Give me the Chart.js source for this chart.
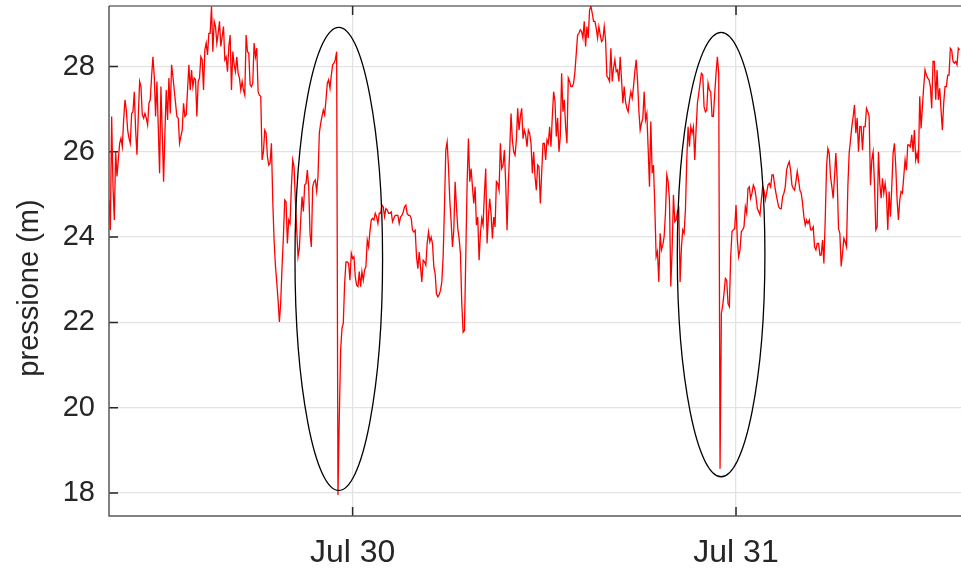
<!DOCTYPE html>
<html>
<head>
<meta charset="utf-8">
<script src="https://cdn.jsdelivr.net/npm/chart.js@4.4.1/dist/chart.umd.min.js"></script>
<style>
  html, body { margin: 0; padding: 0; background: #fff; }
  #wrap { width: 961px; height: 571px; }
</style>
</head>
<body>
<div id="wrap"><canvas id="chart" width="961" height="571"></canvas></div>
<script>
// Pressione misurata, campioni ogni 5 minuti
const startMinute = -915;   // Jul 29 08:45 (minutes from Jul 30 00:00)
const stepMinutes = 5;

const pressione = [
    24.87, 24.17, 26.83, 25.18, 24.40, 26.00, 25.42, 25.81, 26.20, 26.32,
    26.12, 26.75, 27.22, 26.98, 26.51, 26.32, 26.20, 26.90, 26.94, 27.41,
    26.51, 25.93, 26.83, 27.65, 27.53, 26.87, 26.79, 26.90, 26.79, 26.63,
    27.14, 27.22, 27.77, 28.23, 27.77, 26.83, 27.65, 26.59, 25.50, 27.53,
    26.44, 25.30, 26.44, 27.45, 26.75, 27.73, 26.90, 28.04, 27.77, 27.45,
    27.14, 26.83, 26.79, 26.20, 26.36, 26.51, 27.14, 26.83, 26.87, 27.45,
    28.04, 27.45, 27.92, 27.53, 27.73, 27.69, 26.83, 27.65, 27.73, 28.23,
    28.16, 27.45, 28.39, 28.55, 28.27, 28.78, 28.78, 29.41, 28.35, 29.06,
    28.94, 28.55, 28.78, 29.06, 28.47, 28.70, 28.94, 28.16, 28.23, 27.88,
    28.47, 28.74, 27.45, 28.35, 28.04, 27.88, 28.23, 27.84, 27.73, 27.45,
    27.65, 27.45, 27.33, 28.74, 28.35, 28.31, 27.57,
    27.53, 27.61, 28.55, 28.23, 28.43, 27.41, 27.33, 27.30, 25.81, 26.00,
    26.51, 26.44, 25.89, 25.69, 25.73, 26.20, 24.87, 23.93, 23.34, 22.95,
    22.52, 22.01, 22.48, 23.31, 24.01, 24.87, 24.83, 23.85, 24.40, 24.32,
    25.18, 25.81, 25.65, 24.87, 24.17, 23.54, 23.74, 24.40, 24.95, 24.60,
    25.22, 25.26, 25.57, 25.18, 24.09, 23.77, 25.18, 25.30, 25.34, 25.07,
    25.42, 26.44, 26.67, 26.83, 26.98, 26.87, 27.22, 27.61, 27.69, 27.49,
    27.80, 28.04, 28.08, 28.16, 28.35, 17.95, 19.78, 21.35, 21.86, 21.98,
    22.91, 23.42, 23.42, 23.38, 22.99, 23.62, 23.50, 23.54, 23.07, 22.87,
    22.84, 23.19, 22.84, 23.19, 22.99, 23.23, 23.31, 23.93, 23.77, 24.13,
    24.40, 24.44, 24.40, 24.56, 24.48, 24.32, 24.56, 24.56, 24.75, 24.71,
    24.48, 24.67, 24.64, 24.56, 24.56,
    24.59, 24.36, 24.44, 24.51, 24.51, 24.51, 24.32, 24.47, 24.51, 24.59,
    24.71, 24.75, 24.55, 24.51, 24.51, 24.44, 24.16, 24.12, 24.16, 23.54,
    23.26, 23.65, 23.30, 22.95, 23.46, 23.42, 23.34, 23.85, 24.12, 23.89,
    24.00, 23.85, 23.30, 23.14, 22.67, 22.60, 22.65, 22.75, 22.95, 23.54,
    24.71, 26.04, 26.23, 25.65, 24.87, 24.36, 23.77, 24.16, 25.30, 24.71,
    24.20, 23.97, 23.61, 22.44, 21.77, 21.81, 23.54, 25.26, 26.31, 25.30,
    25.61, 25.18, 24.79, 25.18, 24.28, 24.47, 23.46, 24.08, 24.44, 24.28,
    25.02, 25.61, 23.85, 24.47, 24.90, 24.55, 23.97, 24.47, 24.24, 25.30,
    25.26, 25.10, 26.20, 25.61, 25.69, 26.04, 25.26, 24.16, 25.26, 26.04,
    26.90, 26.27, 26.00, 25.92, 26.27, 27.02, 26.51, 26.82, 27.02, 26.31,
    26.51, 26.39, 26.12, 26.51, 26.43,
    26.20, 25.50, 26.00, 25.42, 25.10, 25.69, 25.65, 24.79, 25.50, 26.20,
    26.20, 25.81, 26.28, 26.20, 26.59, 26.12, 26.83, 27.41, 27.18, 26.36,
    26.79, 26.00, 26.36, 27.84, 26.94, 27.22, 26.59, 26.20, 27.73, 27.65,
    27.53, 27.53, 27.61, 27.88, 28.31, 28.74, 28.78, 28.86, 28.82, 28.67,
    29.06, 28.47, 28.94, 28.67, 29.33, 29.41, 29.25, 29.06, 29.06, 28.90,
    28.67, 28.94, 28.74, 28.59, 28.63, 28.94, 28.63, 27.77, 27.73, 27.65,
    28.43, 27.65, 27.96, 28.16, 27.88, 27.92, 27.65, 28.23, 27.69, 27.14,
    27.53, 27.18, 27.02, 26.94, 27.22, 27.41, 27.26, 27.53, 27.88, 28.16,
    27.69, 26.98, 26.51, 26.67, 26.79, 27.41, 26.75, 26.90, 26.08, 25.18,
    26.71, 25.50, 25.69, 24.71, 23.54, 23.66, 22.95, 24.09, 23.70, 23.81,
    24.01, 24.56, 25.46, 25.30, 24.87,
    22.84, 23.70, 24.99, 24.36, 24.40, 24.60, 24.67, 22.95, 23.77, 24.17,
    24.09, 24.64, 25.81, 26.59, 26.12, 26.59, 26.44, 26.59, 25.81, 26.51,
    27.14, 27.37, 27.61, 27.84, 27.80, 27.06, 26.94, 26.98, 27.61, 27.45,
    27.41, 26.83, 26.83, 27.37, 27.84, 28.23, 27.84, 18.57, 22.21, 22.40,
    22.68, 23.03, 22.99, 22.44, 22.37, 23.54, 24.13, 24.17, 24.20, 24.75,
    23.93, 23.54, 23.70, 24.13, 24.17, 24.24, 24.71, 24.56, 25.14, 25.18,
    24.91, 25.03, 25.22, 25.14, 24.95, 24.67, 24.60, 24.52, 24.87, 25.18,
    25.10, 24.87, 25.03, 25.22, 25.26, 25.18, 25.46, 25.46, 25.22, 25.03,
    24.87, 24.71, 24.67, 24.67, 24.95, 25.03, 25.18, 25.57, 25.69, 25.77,
    25.57, 25.22, 25.14, 25.10, 25.30, 25.54, 25.34, 25.10, 25.03, 24.79,
    24.48, 24.28, 24.40, 24.32, 24.40,
    24.17, 24.17, 24.24, 23.77, 23.70, 23.85, 23.85, 23.58, 23.58, 23.93,
    23.38, 24.40, 25.65, 26.08, 25.97, 25.42, 25.18, 24.91, 25.42, 25.97,
    25.34, 24.20, 24.09, 23.31, 23.62, 23.97, 23.89, 23.77, 25.18, 25.97,
    26.28, 26.59, 26.83, 27.10, 26.44, 26.79, 26.00, 26.59, 26.59, 26.04,
    26.59, 26.59, 27.02, 26.94, 26.83, 25.22, 25.81, 26.00, 25.26, 24.17,
    24.24, 26.00, 25.26, 24.91, 25.38, 25.03, 25.26, 24.99, 24.17, 25.07,
    24.48, 25.18, 25.97, 26.20, 25.65, 24.87, 24.40, 24.87, 25.07, 25.03,
    25.42, 25.81, 25.57, 26.16, 26.16, 26.12, 26.40, 26.00, 26.51, 25.81,
    25.97, 25.73, 27.30, 26.55, 27.06, 27.53, 27.92, 27.80, 27.73, 27.69,
    27.53, 27.02, 28.12, 28.12, 27.22, 27.92, 27.22, 27.49, 26.98, 26.51,
    27.14, 27.53, 27.53, 27.80, 27.80, 28.43, 28.39, 28.12, 28.08, 28.12,
    28.04, 28.43, 28.39
];

const dayTicks = [0, 1440];
const dayLabels = ['Jul 30', 'Jul 31'];
const valueTicks = [18, 20, 22, 24, 26, 28];
const xLimits = [-915, 2285];
const yLimits = [17.46, 29.42];

// eventi evidenziati: centro (min, m) e semiassi (min, m)
const eventTime = [-52, 1384];
const eventValue = [23.49, 23.59];
const eventHalfWidth = [164.5, 164.5];
const eventHalfHeight = [5.43, 5.21];

const FONT = "'Liberation Sans', Arial, sans-serif";
const INK = '#262626';

const points = pressione.map((v, i) => ({ x: startMinute + i * stepMinutes, y: v }));

// tick marks pointing inward, box, ellipses, y label
const axesDecor = {
    id: 'axesDecor',
    beforeDatasetsDraw(chart) {
        const { ctx, chartArea: a, scales: { x, y } } = chart;
        ctx.save();
        ctx.strokeStyle = INK;
        ctx.lineWidth = 1.5;
        ctx.beginPath();
        valueTicks.forEach(v => {
            const py = y.getPixelForValue(v);
            ctx.moveTo(a.left, py);
            ctx.lineTo(a.left + 9, py);
        });
        dayTicks.forEach(t => {
            const px = x.getPixelForValue(t);
            ctx.moveTo(px, a.bottom);
            ctx.lineTo(px, a.bottom - 9);
            ctx.moveTo(px, a.top);
            ctx.lineTo(px, a.top + 9);
        });
        ctx.stroke();
        ctx.restore();
    },
    afterDatasetsDraw(chart) {
        const { ctx, chartArea: a, scales: { x, y } } = chart;
        ctx.save();
        ctx.strokeStyle = '#000';
        ctx.lineWidth = 1.3;
        eventTime.forEach((t, i) => {
            const cx = x.getPixelForValue(t);
            const cy = y.getPixelForValue(eventValue[i]);
            const rx = x.getPixelForValue(t + eventHalfWidth[i]) - cx;
            const ry = cy - y.getPixelForValue(eventValue[i] + eventHalfHeight[i]);
            ctx.beginPath();
            ctx.ellipse(cx, cy, rx, ry, 0, 0, Math.PI * 2);
            ctx.stroke();
        });
        ctx.lineWidth = 1.5;
        ctx.strokeStyle = '#5a5a5a';
        ctx.beginPath();
        ctx.moveTo(a.left, a.top);
        ctx.lineTo(a.left, a.bottom);
        ctx.lineTo(a.right, a.bottom);
        ctx.stroke();
        ctx.strokeStyle = INK;
        ctx.lineWidth = 1.2;
        ctx.beginPath();
        ctx.moveTo(a.left, a.top);
        ctx.lineTo(a.right, a.top);
        ctx.stroke();
        ctx.fillStyle = INK;
        ctx.font = '29px ' + FONT;
        ctx.textAlign = 'center';
        ctx.textBaseline = 'middle';
        ctx.translate(30, 288);
        ctx.rotate(-Math.PI / 2);
        ctx.fillText('pressione (m)', 0, 0);
        ctx.restore();
    }
};

new Chart(document.getElementById('chart'), {
    type: 'line',
    data: {
        datasets: [{
            data: points,
            borderColor: '#ff0000',
            borderWidth: 1.3,
            pointRadius: 0,
            tension: 0,
            fill: false
        }]
    },
    options: {
        responsive: false,
        animation: false,
        layout: { padding: { top: 6, right: 0, left: 0, bottom: 0 } },
        plugins: { legend: { display: false }, tooltip: { enabled: false } },
        scales: {
            x: {
                type: 'linear',
                min: xLimits[0],
                max: xLimits[1],
                afterBuildTicks: s => { s.ticks = dayTicks.map(v => ({ value: v })); },
                afterFit: s => { s.height = 55; s.paddingLeft = 0; s.paddingRight = 0; },
                ticks: {
                    callback: v => dayLabels[dayTicks.indexOf(v)],
                    font: { size: 32, family: FONT },
                    color: INK,
                    padding: 18,
                    maxRotation: 0
                },
                grid: { color: '#e3e3e3', lineWidth: 1.3, drawTicks: false },
                border: { display: false }
            },
            y: {
                min: yLimits[0],
                max: yLimits[1],
                afterBuildTicks: s => { s.ticks = valueTicks.map(v => ({ value: v })); },
                afterFit: s => { s.width = 109; s.paddingTop = 0; s.paddingBottom = 0; },
                ticks: {
                    font: { size: 29, family: FONT },
                    color: INK,
                    padding: 14
                },
                grid: { color: '#e3e3e3', lineWidth: 1.3, drawTicks: false },
                border: { display: false }
            }
        }
    },
    plugins: [axesDecor]
});
</script>
</body>
</html>
